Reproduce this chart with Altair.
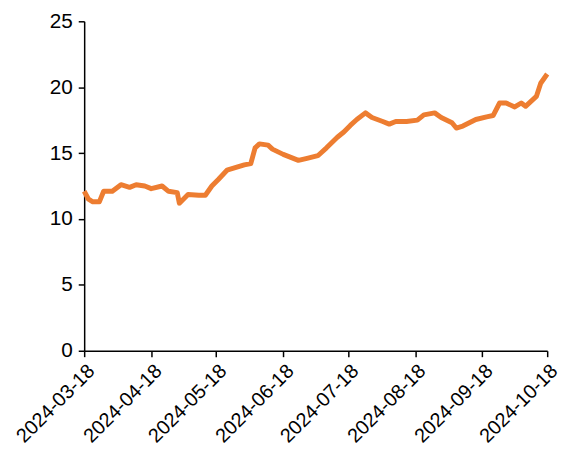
import altair as alt
import pandas as pd

dates = [
    "2024-03-18", "2024-03-20", "2024-03-22", "2024-03-25", "2024-03-27", "2024-03-31",
    "2024-04-04", "2024-04-08", "2024-04-11", "2024-04-15", "2024-04-18",
    "2024-04-23", "2024-04-26", "2024-04-30", "2024-05-01", "2024-05-05",
    "2024-05-10", "2024-05-13", "2024-05-16", "2024-05-19", "2024-05-23",
    "2024-05-31", "2024-06-03", "2024-06-05", "2024-06-07", "2024-06-11",
    "2024-06-13", "2024-06-18", "2024-06-25", "2024-06-29", "2024-07-04",
    "2024-07-08", "2024-07-13", "2024-07-16", "2024-07-19", "2024-07-22",
    "2024-07-26", "2024-07-29", "2024-08-03", "2024-08-06", "2024-08-09",
    "2024-08-14", "2024-08-19", "2024-08-22", "2024-08-27", "2024-08-30",
    "2024-09-04", "2024-09-06", "2024-09-09", "2024-09-12", "2024-09-15",
    "2024-09-20", "2024-09-23", "2024-09-26", "2024-09-29", "2024-10-03",
    "2024-10-06", "2024-10-08", "2024-10-13", "2024-10-15", "2024-10-18",
]
values = [
    12.1, 11.5, 11.3, 11.3, 12.1, 12.1,
    12.6, 12.4, 12.6, 12.5, 12.3,
    12.5, 12.1, 12.0, 11.2, 11.85,
    11.8, 11.8, 12.5, 13.0, 13.7,
    14.1, 14.2, 15.4, 15.7, 15.6,
    15.3, 14.9, 14.45, 14.6, 14.8,
    15.4, 16.2, 16.6, 17.1, 17.55,
    18.05, 17.7, 17.4, 17.2, 17.4,
    17.4, 17.5, 17.9, 18.05, 17.7,
    17.3, 16.9, 17.05, 17.3, 17.55,
    17.75, 17.85, 18.8, 18.8, 18.5,
    18.8, 18.55, 19.3, 20.3, 21.0,
]
tick_dates = ["2024-03-18", "2024-04-18", "2024-05-18", "2024-06-18",
              "2024-07-18", "2024-08-18", "2024-09-18", "2024-10-18"]
y_ticks = [0, 5, 10, 15, 20, 25]


def dt(s):
    y, m, d = (int(p) for p in s.split("-"))
    return alt.DateTime(year=y, month=m, date=d, utc=True)


df = pd.DataFrame({"date": dates, "value": values})

FONT = "Liberation Sans"

chart = (
    alt.Chart(df)
    .mark_line(color="#ED7D31", strokeWidth=5, strokeJoin="round")
    .encode(
        x=alt.X(
            "date:T",
            scale=alt.Scale(type="utc", domain=[dt(tick_dates[0]), dt(tick_dates[-1])], nice=False),
            axis=alt.Axis(
                title=None,
                values=[dt(t) for t in tick_dates],
                labelExpr="utcFormat(datum.value, '%Y-%m-%d')",
                labelAngle=-45,
                labelFontSize=20,
                labelFont=FONT,
                labelColor="black",
                tickColor="black",
                domainColor="black",
                tickSize=6,
                domainWidth=1.5,
                tickWidth=1.5,
                grid=False,
                labelPadding=4,
                labelOverlap=False,
                labelBound=False,
                labelFlush=False,
            ),
        ),
        y=alt.Y(
            "value:Q",
            scale=alt.Scale(domain=[0, 25], nice=False),
            axis=alt.Axis(
                title=None,
                values=y_ticks,
                labelFontSize=21,
                labelFont=FONT,
                labelColor="black",
                tickColor="black",
                domainColor="black",
                tickSize=6,
                domainWidth=1.5,
                tickWidth=1.5,
                grid=False,
                labelPadding=6,
            ),
        ),
    )
    .properties(
        width=468,
        height=333,
        autosize=alt.AutoSizeParams(type="none"),
        padding={"left": 77, "top": 11, "right": 18, "bottom": 110},
    )
    .configure_view(stroke=None)
)

chart.save("out.html", embed_options={"renderer": "svg", "actions": False})
